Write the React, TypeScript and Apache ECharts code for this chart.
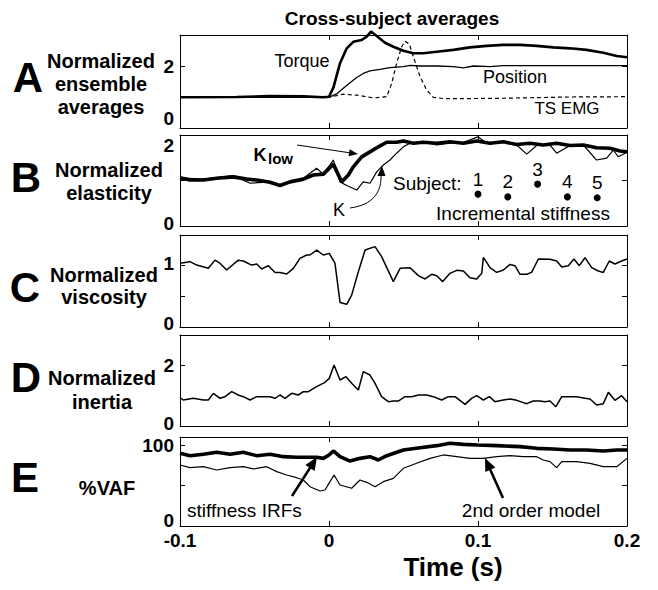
import React, { useEffect, useRef } from 'react';
import * as echarts from 'echarts';

// ---------------- data (time in s) ----------------
const timeRange = [-0.1, 0.2];

// A: normalized ensemble averages
const torque = [[-0.1,0.99],[-0.062,1.0],[-0.04,1.03],[-0.017,1.02],[-0.004,0.99],[0.0,1.01],[0.003,1.31],[0.0074,2.09],[0.0119,2.57],[0.0163,2.78],[0.0219,2.84],[0.0253,2.95],[0.0282,3.11],[0.032,2.97],[0.0376,2.75],[0.0432,2.62],[0.0499,2.49],[0.0566,2.41],[0.0633,2.41],[0.0723,2.46],[0.0834,2.52],[0.0946,2.6],[0.1058,2.65],[0.117,2.68],[0.1282,2.68],[0.1394,2.65],[0.1506,2.6],[0.1617,2.57],[0.1729,2.52],[0.1841,2.43],[0.1931,2.32],[0.2,2.28]];
const position = [[-0.1,0.99],[0.0,0.99],[0.0051,1.1],[0.0096,1.28],[0.0141,1.46],[0.0186,1.63],[0.023,1.76],[0.0275,1.84],[0.0342,1.89],[0.0409,1.95],[0.0499,1.98],[0.0544,2.02],[0.0611,2.0],[0.0723,2.0],[0.0834,1.98],[0.0902,1.94],[0.0969,2.0],[0.1081,1.98],[0.117,2.01],[0.1394,2.01],[0.2,2.01]];
const tsEmg = [[-0.1,0.99],[0.0,0.99],[0.0096,1.09],[0.0186,1.06],[0.0298,0.97],[0.0387,1.01],[0.0421,1.44],[0.0454,2.09],[0.0488,2.62],[0.051,2.8],[0.0539,2.71],[0.0566,2.3],[0.0611,1.66],[0.0655,1.23],[0.07,0.99],[0.0767,0.95],[0.0946,0.95],[0.117,0.96],[0.1394,0.98],[0.1617,1.0],[0.2,1.01]];

// B: normalized elasticity
const kLow = [[-0.1,1.06],[-0.0933,1.01],[-0.0843,1.01],[-0.0754,1.05],[-0.0642,1.08],[-0.0553,1.03],[-0.0485,1.01],[-0.0396,0.96],[-0.0329,0.89],[-0.0262,0.97],[-0.0172,1.03],[-0.0105,1.12],[-0.0038,1.14],[0.0029,1.36],[0.0085,0.97],[0.013,1.12],[0.0163,1.3],[0.0219,1.52],[0.0275,1.63],[0.0331,1.74],[0.0387,1.84],[0.0454,1.84],[0.0499,1.87],[0.0566,1.82],[0.0633,1.84],[0.0723,1.82],[0.0812,1.85],[0.0902,1.82],[0.0991,1.87],[0.1081,1.82],[0.117,1.85],[0.126,1.79],[0.1349,1.82],[0.1438,1.78],[0.1528,1.82],[0.1617,1.77],[0.1707,1.78],[0.1796,1.72],[0.1886,1.71],[0.1953,1.65],[0.2,1.63]];
const kFull = [[-0.1,1.06],[-0.0843,1.03],[-0.0642,1.11],[-0.053,0.94],[-0.0396,0.97],[-0.0329,0.9],[-0.0172,1.05],[-0.0083,1.27],[-0.0038,1.14],[0.0029,1.45],[0.0074,0.97],[0.0119,0.89],[0.0186,0.79],[0.023,0.97],[0.0275,0.94],[0.032,1.19],[0.0365,1.34],[0.0409,1.45],[0.0454,1.6],[0.0499,1.74],[0.0544,1.82],[0.0633,1.85],[0.0723,1.78],[0.0812,1.82],[0.0902,1.84],[0.1,1.96],[0.1058,1.82],[0.117,1.84],[0.126,1.78],[0.1327,1.58],[0.1394,1.77],[0.1483,1.78],[0.1528,1.6],[0.1617,1.77],[0.1707,1.78],[0.1796,1.45],[0.1864,1.49],[0.1908,1.67],[0.1942,1.52],[0.2,1.62]];
const subjectNames = ['1', '2', '3', '4', '5'];
const subjectTimes = [0.1, 0.12, 0.14, 0.16, 0.18];
const subjectStiffness = [0.7, 0.64, 0.92, 0.64, 0.62];

// C: normalized viscosity
const viscosity = [[-0.1,1.04],[-0.0933,1.065],[-0.0888,1.01],[-0.081,0.957],[-0.0765,1.09],[-0.0732,1.04],[-0.0687,0.93],[-0.0609,1.09],[-0.0575,1.076],[-0.0519,1.01],[-0.0485,1.027],[-0.0452,0.946],[-0.0407,1.0],[-0.0362,0.89],[-0.0329,0.89],[-0.0284,0.864],[-0.0239,0.957],[-0.0195,1.12],[-0.015,1.174],[-0.0128,1.174],[-0.0083,1.255],[-0.0038,1.174],[0.0002,1.2],[0.004,1.04],[0.0074,0.4],[0.0119,0.37],[0.0152,0.52],[0.0197,0.9],[0.0242,1.255],[0.0309,1.31],[0.0353,1.147],[0.0432,0.74],[0.0477,0.957],[0.0544,0.967],[0.06,0.837],[0.0644,0.783],[0.0689,0.859],[0.0723,0.837],[0.0763,0.74],[0.0812,0.875],[0.0857,0.924],[0.0902,0.913],[0.0946,0.804],[0.0991,0.783],[0.1025,0.875],[0.1036,1.136],[0.1081,0.967],[0.1125,0.89],[0.117,0.93],[0.1215,1.02],[0.1248,1.0],[0.1282,0.859],[0.1327,0.859],[0.136,0.89],[0.1405,1.109],[0.1483,1.103],[0.1528,1.076],[0.1562,0.978],[0.1606,1.0],[0.1644,1.109],[0.168,1.0],[0.1718,1.13],[0.1763,0.967],[0.1808,0.913],[0.1841,0.89],[0.1881,1.076],[0.1919,1.027],[0.1964,1.076],[0.2,1.109]];

// D: normalized inertia
const inertia = [[-0.1,0.934],[-0.0978,0.857],[-0.0911,0.912],[-0.0843,0.857],[-0.081,0.857],[-0.0776,1.077],[-0.0732,0.912],[-0.0698,0.967],[-0.0653,1.132],[-0.0609,1.022],[-0.0575,0.967],[-0.053,0.857],[-0.0485,0.967],[-0.0396,0.967],[-0.0362,0.912],[-0.0329,1.022],[-0.0295,0.912],[-0.0251,1.077],[-0.0206,1.022],[-0.0172,1.132],[-0.0139,1.132],[-0.0083,1.297],[-0.0027,1.44],[0.0002,1.57],[0.0034,2.01],[0.0074,1.516],[0.0114,1.626],[0.0152,1.407],[0.0197,1.187],[0.023,1.79],[0.0275,1.68],[0.0309,1.407],[0.0353,0.967],[0.0398,0.802],[0.0432,0.824],[0.0465,0.824],[0.051,0.967],[0.0555,0.967],[0.06,1.022],[0.0655,1.022],[0.07,0.967],[0.0756,0.857],[0.0801,0.967],[0.0846,0.967],[0.0913,0.714],[0.0957,0.912],[0.0991,1.0],[0.1036,0.857],[0.1076,0.967],[0.1114,0.802],[0.117,0.857],[0.1215,0.89],[0.126,0.846],[0.1327,0.736],[0.1371,0.824],[0.1416,0.824],[0.145,0.802],[0.1483,0.824],[0.1523,0.637],[0.1562,0.967],[0.1662,0.967],[0.1718,0.912],[0.1752,0.89],[0.1796,0.692],[0.1841,0.736],[0.1875,1.11],[0.1919,0.846],[0.1964,1.0],[0.2,0.802]];

// E: %VAF
const vafIrf = [[-0.1,89.8],[-0.0933,86.9],[-0.0843,88.6],[-0.0754,91.1],[-0.0664,88.6],[-0.0575,91.1],[-0.0485,86.9],[-0.0396,88.6],[-0.0306,85.7],[-0.0217,84.9],[-0.0128,84.9],[-0.0083,84.9],[-0.0038,83.6],[0.0,87.8],[0.0029,92.7],[0.0074,85.7],[0.0141,80.3],[0.0208,83.6],[0.0275,85.7],[0.0331,81.6],[0.0387,86.9],[0.0499,93.9],[0.0611,96.8],[0.0723,99.3],[0.0812,102.2],[0.0902,100.9],[0.1,100.1],[0.1125,99.3],[0.1282,98.1],[0.1394,96.0],[0.1506,95.2],[0.1617,93.9],[0.1729,93.9],[0.1841,92.7],[0.1931,93.9],[0.2,93.9]];
const vafModel = [[-0.1,75.4],[-0.0933,72.1],[-0.0843,73.3],[-0.0754,69.2],[-0.0664,72.1],[-0.0575,73.3],[-0.0508,70.5],[-0.0418,73.3],[-0.0351,67.2],[-0.0284,63.0],[-0.0217,59.7],[-0.0172,56.9],[-0.0128,48.6],[-0.006,43.3],[-0.0027,44.5],[0.0,52.7],[0.0034,63.0],[0.0074,50.7],[0.0152,46.6],[0.0208,56.9],[0.0253,54.0],[0.0309,48.6],[0.0365,54.8],[0.0432,58.9],[0.0499,71.3],[0.0588,77.5],[0.0678,83.6],[0.0767,87.8],[0.0857,85.7],[0.0946,83.6],[0.1036,83.6],[0.1125,85.7],[0.1215,86.9],[0.1304,85.7],[0.1394,85.7],[0.1438,81.6],[0.1483,79.5],[0.1528,72.1],[0.1562,79.5],[0.1662,79.5],[0.1752,77.5],[0.1841,73.3],[0.1931,73.3],[0.2,83.6]];

// y tick labels shown per panel: [value, text]
const yLabelsA = [[0, '0'], [2, '2']];
const yLabelsB = [[0, '0'], [2, '2']];
const yLabelsC = [[0, '0'], [1, '1']];
const yLabelsD = [[0, '0'], [2, '2']];
const yLabelsE = [[0, '0'], [100, '100']];

// ---------------- layout ----------------
const FONT = '"Liberation Sans", Arial, Helvetica, sans-serif';
const GRID_LEFT = 180;
const GRID_WIDTH = 447;

const panels = [
  { top: 35, height: 93, min: 0, max: 3, interval: 2, labels: yLabelsA, shifts: [-10, 0] },
  { top: 135, height: 91, min: 0, max: 2, interval: 1, labels: yLabelsB, shifts: [-3, 10] },
  { top: 235, height: 92, min: 0, max: 1.5, interval: 0.5, labels: yLabelsC, shifts: [-4, -2] },
  { top: 335, height: 91, min: 0, max: 3, interval: 2, labels: yLabelsD, shifts: [-3, 0] },
  { top: 437, height: 89, min: 0, max: 110, interval: 50, labels: yLabelsE, shifts: [-6, 0] },
];

function arrow(x1: number, y1: number, x2: number, y2: number, w: number, headLen: number, headHalf: number) {
  const dx = x2 - x1, dy = y2 - y1;
  const L = Math.hypot(dx, dy);
  const ux = dx / L, uy = dy / L;
  const bx = x2 - ux * headLen, by = y2 - uy * headLen;
  const px = -uy * headHalf, py = ux * headHalf;
  return [
    { type: 'line', shape: { x1, y1, x2: bx + ux, y2: by + uy }, style: { stroke: '#000', lineWidth: w } },
    { type: 'polygon', shape: { points: [[x2, y2], [bx + px, by + py], [bx - px, by - py]] }, style: { fill: '#000' } },
  ];
}

function txt(text: string, x: number, y: number, size: number, bold: boolean, align = 'center', lineHeight?: number) {
  return {
    type: 'text', x, y,
    style: {
      text, fill: '#000',
      font: `${bold ? 'bold ' : ''}${size}px ${FONT}`,
      fontSize: size, fontWeight: bold ? 'bold' : 'normal', fontFamily: FONT,
      textAlign: align, textVerticalAlign: 'middle', align, verticalAlign: 'middle',
      lineHeight: lineHeight || size * 1.2,
    },
  };
}

export default function App() {
  const ref = useRef<HTMLDivElement>(null);
  useEffect(() => {
    if (!ref.current) return;
    const chart = echarts.init(ref.current, undefined, { renderer: 'svg' });
    const lineStyleAxis = { color: '#000', width: 1 };
    const grids: any[] = [];
    const xAxes: any[] = [];
    const yAxes: any[] = [];
    panels.forEach((p, i) => {
      grids.push({ left: GRID_LEFT, width: GRID_WIDTH, top: p.top, height: p.height, containLabel: false });
      const common = {
        gridIndex: i, type: 'value', min: timeRange[0], max: timeRange[1], interval: 0.1,
        axisLine: { show: true, onZero: false, lineStyle: lineStyleAxis },
        axisTick: { show: true, inside: true, length: 5, lineStyle: lineStyleAxis },
        splitLine: { show: false },
      };
      xAxes.push({
        ...common, position: 'bottom',
        axisLabel: {
          show: i === panels.length - 1, color: '#000', fontSize: 19, fontWeight: 'bold', fontFamily: FONT, margin: 5,
          formatter: (v: number) => (Math.abs(v) < 1e-9 ? '0' : v.toFixed(1)),
        },
      });
      xAxes.push({ ...common, position: 'top', axisLabel: { show: false } });

      const rich: any = {};
      p.labels.forEach((lab: any, k: number) => {
        const s = p.shifts[k];
        rich['r' + k] = {
          fontSize: 19, fontWeight: 'bold', fontFamily: FONT, color: '#000',
          padding: s < 0 ? [0, 0, -2 * s, 0] : [2 * s, 0, 0, 0],
        };
      });
      const yCommon = {
        gridIndex: i, type: 'value', min: p.min, max: p.max, interval: p.interval,
        axisLine: { show: true, onZero: false, lineStyle: lineStyleAxis },
        axisTick: { show: true, inside: true, length: 5, lineStyle: lineStyleAxis },
        splitLine: { show: false },
      };
      yAxes.push({
        ...yCommon, position: 'left',
        axisLabel: {
          show: true, margin: 6, color: '#000', fontSize: 19, fontWeight: 'bold', fontFamily: FONT,
          formatter: (v: number) => {
            const k = p.labels.findIndex((lab: any) => Math.abs(lab[0] - v) < 1e-6);
            return k < 0 ? '' : `{r${k}|${p.labels[k][1]}}`;
          },
          rich,
        },
      });
      yAxes.push({ ...yCommon, position: 'right', axisLabel: { show: false } });
    });

    const line = (data: number[][], panel: number, width: number, extra: any = {}) => ({
      type: 'line', data, xAxisIndex: panel * 2, yAxisIndex: panel * 2,
      showSymbol: false, symbol: 'none', clip: false, silent: true,
      lineStyle: { color: '#000', width, ...extra },
      z: 3,
    });

    const series: any[] = [
      line(torque, 0, 2.6),
      line(position, 0, 1.3),
      line(tsEmg, 0, 1.2, { type: [4, 3] }),
      line(kFull, 1, 1.2),
      line(kLow, 1, 3.6),
      {
        type: 'scatter', xAxisIndex: 2, yAxisIndex: 2, symbol: 'circle', symbolSize: 7,
        itemStyle: { color: '#000', opacity: 1 },
        data: subjectTimes.map((t, k) => ({ value: [t, subjectStiffness[k]], name: subjectNames[k] })),
        label: {
          show: true, position: 'top', distance: 2, color: '#000', opacity: 1, fontSize: 19, fontFamily: FONT,
          formatter: (pp: any) => pp.name,
        },
        z: 4,
      },
      line(viscosity, 2, 1.5),
      line(inertia, 3, 1.5),
      line(vafModel, 4, 1.2),
      line(vafIrf, 4, 3.6),
    ];

    const graphic: any[] = [
      txt('Cross-subject averages', 392, 18, 19, true),
      // panel letters and names
      txt('A', 28, 77, 42, true),
      txt('Normalized\nensemble\naverages', 101, 84, 20, true, 'center', 23),
      txt('B', 26, 177, 42, true),
      txt('Normalized\nelasticity', 109, 181, 20, true, 'center', 23),
      txt('C', 25, 287, 42, true),
      txt('Normalized\nviscosity', 104, 286, 20, true, 'center', 22),
      txt('D', 26, 377, 42, true),
      txt('Normalized\ninertia', 102, 390, 20, true, 'center', 24),
      txt('E', 25, 477, 42, true),
      txt('%VAF', 107, 488, 20, true),
      // panel A labels
      txt('Torque', 302, 61, 18, false),
      txt('Position', 515, 77, 18, false),
      txt('TS EMG', 567, 108, 17, false),
      // panel B labels
      txt('K', 260, 155, 18, true),
      txt('low', 268, 158, 15, true, 'left'),
      ...arrow(297, 145, 358, 154, 1, 9, 3.5),
      txt('K', 339, 210, 18, false),
      {
        type: 'bezierCurve',
        shape: { x1: 350, y1: 208, cpx1: 373, cpy1: 205, cpx2: 382, cpy2: 192, x2: 381, y2: 174 },
        style: { stroke: '#000', lineWidth: 1, fill: null },
      },
      { type: 'polygon', shape: { points: [[382, 166], [377.5, 176], [385.5, 176]] }, style: { fill: '#000' } },
      txt('Subject:', 393, 183, 19, false, 'left'),
      txt('Incremental stiffness', 523, 213, 19, false),
      // panel E labels
      txt('stiffness IRFs', 187, 510, 19, false, 'left'),
      txt('2nd order model', 531, 510, 19, false),
      ...arrow(292, 496, 317, 457, 2.6, 13, 5.5),
      ...arrow(503, 498, 485, 458, 2.6, 13, 5.5),
      // x axis title
      txt('Time (s)', 453, 567, 26, true),
    ];

    chart.setOption({
      animation: false,
      backgroundColor: '#fff',
      grid: grids,
      xAxis: xAxes,
      yAxis: yAxes,
      series,
      graphic,
    });
    return () => chart.dispose();
  }, []);
  return <div ref={ref} style={{ position: 'absolute', left: 0, top: 0, width: 658, height: 590 }} />;
}
